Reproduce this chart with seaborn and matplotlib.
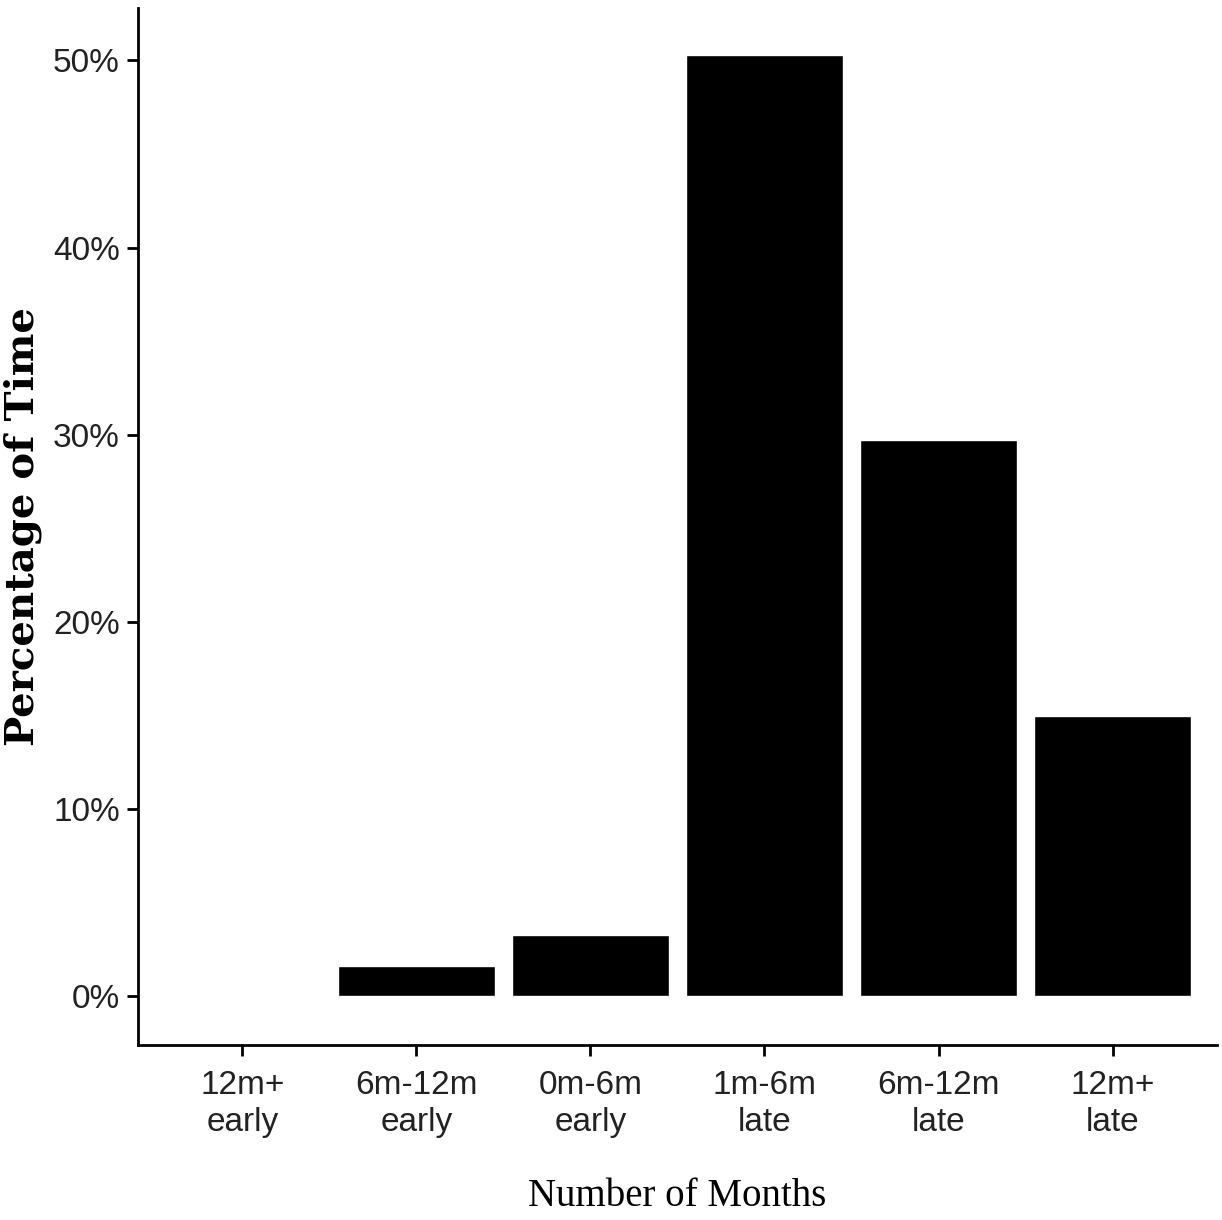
import matplotlib
matplotlib.use("Agg")
import matplotlib.pyplot as plt
from matplotlib.ticker import PercentFormatter
import seaborn as sns
import pandas as pd

# data
categories = ["12m+\nearly", "6m-12m\nearly", "0m-6m\nearly",
              "1m-6m\nlate", "6m-12m\nlate", "12m+\nlate"]
percent_time = [0.0, 1.6, 3.3, 50.3, 29.7, 15.0]
y_ticks = [0, 10, 20, 30, 40, 50]

df = pd.DataFrame({"Months": categories, "Percent": percent_time})

sns.set_theme(style="ticks")
plt.rcParams["font.family"] = ["Liberation Sans Narrow", "Liberation Sans", "DejaVu Sans"]

fig = plt.figure(figsize=(12.22, 12.20), dpi=100)
ax = fig.add_axes([0.1129, 0.1434, 0.883, 0.85])

sns.barplot(data=df, x="Months", y="Percent", color="black", width=0.9,
            saturation=1, ax=ax)

ax.set_xlim(-0.6, 5.6)
ax.set_ylim(-2.6, 52.8)
ax.set_yticks(y_ticks)
ax.yaxis.set_major_formatter(PercentFormatter(decimals=0))

for side in ["top", "right"]:
    ax.spines[side].set_visible(False)
for side in ["left", "bottom"]:
    ax.spines[side].set_linewidth(2)
    ax.spines[side].set_color("black")

ax.tick_params(axis="both", length=8, width=2, color="black",
               labelsize=24, labelcolor="#222222")
ax.tick_params(axis="x", pad=10)
ax.tick_params(axis="y", pad=5)
for lbl in ax.get_xticklabels():
    lbl.set_linespacing(1.25)

ax.set_xlabel("Number of Months", family=["Liberation Serif", "DejaVu Serif"],
              fontsize=28, color="black")
ax.xaxis.set_label_coords(0.5, -0.128)
ax.set_ylabel("Percentage of Time", family=["DejaVu Serif"], fontweight="bold",
              fontsize=29, color="black")
ax.yaxis.set_label_coords(-0.089, 0.5)

fig.savefig("out.png", dpi=100)
